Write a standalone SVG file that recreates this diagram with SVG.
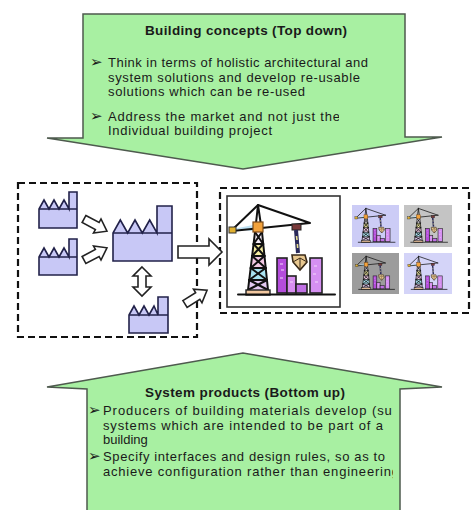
<svg xmlns="http://www.w3.org/2000/svg" xmlns:xlink="http://www.w3.org/1999/xlink" width="475" height="510" viewBox="0 0 475 510">
  <style>
    .band { fill: #a8f0a2; stroke: #4e5a4e; stroke-width: 1.5; stroke-linejoin: miter; }
    .title { font-family: "Liberation Sans", Arial, sans-serif; font-weight: bold; font-size: 13.5px; fill: #1a1a1a; }
    .txt { font-family: "Liberation Sans", Arial, sans-serif; font-size: 13px; fill: #1a1a1a; }
    .bul { font-family: "DejaVu Sans", sans-serif; font-size: 15px; fill: #1a1a1a; }
    .dash { fill: none; stroke: #111; stroke-width: 2.2; stroke-dasharray: 7 4; }
    .fac { fill: #c8c8f6; stroke: #22224a; stroke-width: 1.6; stroke-linejoin: miter; }
    .blk { fill: #ffffff; stroke: #222; stroke-width: 1.6; stroke-linejoin: miter; }
    .ln { fill: none; stroke: #111; stroke-width: 2; stroke-linecap: round; stroke-linejoin: round; }
  </style>
  <defs>
    <clipPath id="clipBottom"><rect x="80" y="380" width="313" height="130"/></clipPath>
    <clipPath id="clipTopLine"><rect x="80" y="100" width="259" height="30"/></clipPath>
    <!-- small block arrow pointing along +x -->
    <path id="blockArrow" d="M0,-4 H15 V-8 L26,0 L15,8 V4 H0 Z"/>
    <!-- crane with buildings, drawn in the large frame's coordinates -->
    <symbol id="crane" viewBox="227 196 113 111">
      <!-- tower lattice bands -->
      <polygon points="255,232 262,232 263.2,244 253.6,244" fill="#f4ecf8"/>
      <polygon points="253.6,244 263.2,244 264.5,256 252.1,256" fill="#f6eea0"/>
      <polygon points="252.1,256 264.5,256 265.7,268 250.7,268" fill="#f2c8e4"/>
      <polygon points="250.7,268 265.7,268 267,280 249.2,280" fill="#a8e2f0"/>
      <polygon points="249.2,280 267,280 268,290 248,290" fill="#e2c8f0"/>
      <g class="ln" stroke-width="1.6">
        <path d="M255,232 L263.2,244 M262,232 L253.6,244"/>
        <path d="M253.6,244 L264.5,256 M263.2,244 L252.1,256"/>
        <path d="M252.1,256 L265.7,268 M264.5,256 L250.7,268"/>
        <path d="M250.7,268 L267,280 M265.7,268 L249.2,280"/>
        <path d="M249.2,280 L268,290 M267,280 L248,290"/>
        <path d="M253.6,244 H263.2 M252.1,256 H264.5 M250.7,268 H265.7 M249.2,280 H267"/>
      </g>
      <!-- legs -->
      <path class="ln" d="M248,290 L255,232 L258,205 L262,232 L268,290"/>
      <!-- jib and counter-jib -->
      <polygon points="233,229 253,225 253,231" fill="#bfe2f4"/>
      <path class="ln" d="M258,205 L310,223 M258,205 L232,230 M232,231 L310,223"/>
      <rect x="229" y="227" width="7" height="6" fill="#e0b030" stroke="#333" stroke-width="1"/>
      <rect x="253" y="222" width="10" height="10" fill="#f2a23c" stroke="#7a4a18" stroke-width="1.2"/>
      <!-- trolley, cable and load -->
      <rect x="292" y="224" width="9" height="6" fill="#7a3a3a" stroke="#222" stroke-width="1"/>
      <path d="M296,230 L298,253" stroke="#2a2a5a" stroke-width="4" fill="none"/>
      <path d="M296.5,236 L297,240 M297.4,244 L297.7,248" stroke="#e8e090" stroke-width="1.6" fill="none"/>
      <polygon points="292,255 305,255 307,262 300,270 293,262" fill="#e8c890" stroke="#3a2a18" stroke-width="1.6"/>
      <path d="M293,262 L300,258 L307,262 M300,258 V270" stroke="#3a2a18" stroke-width="1" fill="none"/>
      <!-- buildings -->
      <rect x="277" y="258" width="10" height="35" fill="#b44cdc" stroke="#222" stroke-width="1.6"/>
      <rect x="287" y="276" width="9" height="17" fill="#d88ef0" stroke="#222" stroke-width="1.6"/>
      <rect x="296" y="284" width="11" height="9" fill="#c070e4" stroke="#222" stroke-width="1.6"/>
      <rect x="310" y="258" width="12" height="35" fill="#d690f2" stroke="#222" stroke-width="1.6"/>
      <path d="M280,264 h3 M281,270 h3 M280,278 h3 M314,266 h3 M313,274 h3 M315,282 h3 M290,282 h3" stroke="#f4d8fc" stroke-width="1.2"/>
      <!-- base and ground -->
      <rect x="246" y="290" width="24" height="5" fill="#f2c8a0" stroke="#222" stroke-width="1.4"/>
      <path class="ln" d="M238,294.5 H335"/>
    </symbol>
  </defs>

  <!-- top concept arrow -->
  <g id="top-concepts">
    <path class="band" d="M83,14 H405 V137 H442 L243,169 L47,138 H83 Z"/>
    <text class="title" x="246" y="35" text-anchor="middle" textLength="202">Building concepts (Top down)</text>
    <text class="bul" x="90" y="67">➢</text>
    <text class="bul" x="90" y="120.5">➢</text>
    <text class="txt" x="108" y="67" textLength="260">Think in terms of holistic architectural and</text>
    <text class="txt" x="108" y="81.5" textLength="252">system solutions and develop re-usable</text>
    <text class="txt" x="108" y="96" textLength="197">solutions which can be re-used</text>
    <text class="txt" x="108" y="120.5" textLength="232" clip-path="url(#clipTopLine)">Address the market and not just the</text>
    <text class="txt" x="108" y="135" textLength="164">Individual building project</text>
  </g>

  <!-- bottom product arrow -->
  <g id="bottom-products">
    <path class="band" d="M87,515 V389 L47,387 L243,353 L442,387 L400,389 V515 Z"/>
    <text class="title" x="245" y="397" text-anchor="middle" textLength="200">System products (Bottom up)</text>
    <text class="bul" x="88" y="415">➢</text>
    <text class="bul" x="88" y="461">➢</text>
    <g clip-path="url(#clipBottom)">
      <text class="txt" x="103" y="415" textLength="297">Producers of building materials develop (sub</text>
      <text class="txt" x="103" y="429.5" textLength="280">systems which are intended to be part of a</text>
      <text class="txt" x="103" y="444">building</text>
      <text class="txt" x="103" y="461" textLength="282">Specify interfaces and design rules, so as to</text>
      <text class="txt" x="103" y="475.5" textLength="296">achieve configuration rather than engineering</text>
    </g>
  </g>

  <!-- supplier network -->
  <g id="supplier-network">
    <rect class="dash" x="18" y="183" width="179" height="154"/>
    <g id="factory-a">
      <path class="fac" d="M39,228 V209 L44,200 L49,209 L54,200 L59,209 L64,200 L69,209 V192 H77 V228 Z"/>
      <path class="fac" d="M39,209 H77"/>
    </g>
    <g id="factory-b">
      <path class="fac" d="M39,275 V257 L44,248 L49,257 L54,248 L59,257 L64,248 L69,257 V239 H77 V275 Z"/>
      <path class="fac" d="M39,257 H77"/>
    </g>
    <g id="factory-main">
      <path class="fac" d="M113,261 V233 L120.3,220 L127.7,233 L135,220 L142.3,233 L149.7,220 L157,233 V206 H172 V261 Z"/>
      <path class="fac" d="M113,233 H172"/>
    </g>
    <g id="factory-c">
      <path class="fac" d="M129,333 V315 L134,306 L139,315 L144,306 L149,315 L154,306 L158,315 V297 H168 V333 Z"/>
      <path class="fac" d="M129,315 H168"/>
    </g>
  </g>

  <!-- building project -->
  <g id="project">
    <rect class="dash" x="220" y="188" width="249" height="125"/>
    <g id="crane-main">
      <rect x="227" y="196" width="113" height="111" fill="#fff" stroke="#333" stroke-width="1.6"/>
      <use xlink:href="#crane" x="227" y="196" width="113" height="111"/>
    </g>
    <g id="crane-variants">
      <rect x="352" y="205" width="47" height="42" fill="#ccccf6"/>
      <use xlink:href="#crane" x="352" y="205" width="47" height="42"/>
      <rect x="404" y="205" width="48" height="42" fill="#c4c4c4"/>
      <use xlink:href="#crane" x="404" y="205" width="48" height="42"/>
      <rect x="352" y="253" width="47" height="41" fill="#9c9c9c"/>
      <use xlink:href="#crane" x="352" y="253" width="47" height="41"/>
      <rect x="404" y="253" width="48" height="41" fill="#d4d4f8"/>
      <use xlink:href="#crane" x="404" y="253" width="48" height="41"/>
    </g>
  </g>

  <!-- connectors -->
  <g id="connectors">
    <use xlink:href="#blockArrow" class="blk" transform="translate(84,219) rotate(28)"/>
    <use xlink:href="#blockArrow" class="blk" transform="translate(84,260) rotate(-28)"/>
    <use xlink:href="#blockArrow" class="blk" transform="translate(185,304) rotate(-32)"/>
    <path class="blk" d="M142,267 L151,276 H146 V287 H151 L142,296 L133,287 H138 V276 H133 Z"/>
    <path class="blk" d="M178,246 H209 V239 L222,252 L209,265 V258 H178 Z"/>
  </g>
</svg>
